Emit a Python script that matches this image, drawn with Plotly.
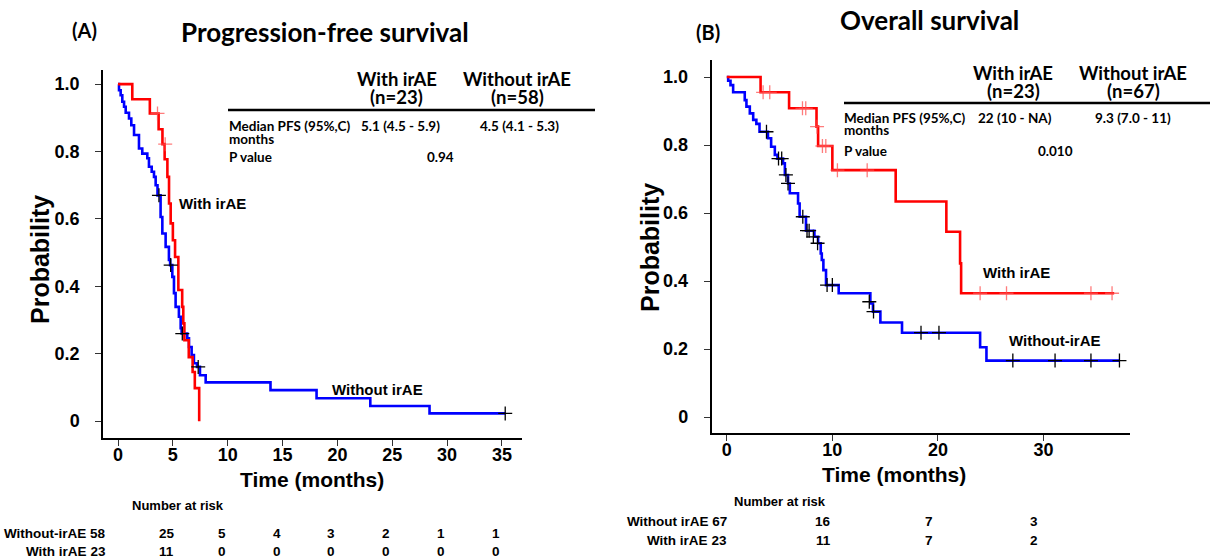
import plotly.graph_objects as go

W, H = 1210, 559

# ---------------- data ----------------
# (A) Progression-free survival
pfs_with_t = [0, 1.3, 2.9, 3.7, 4.05, 4.25, 4.5, 4.65, 4.8, 5.0, 5.2, 5.5, 5.85, 5.95, 6.05, 6.45, 6.8, 7.0, 7.4]
pfs_with_s = [1.0, 0.955, 0.913, 0.866, 0.822, 0.777, 0.725, 0.646, 0.587, 0.537, 0.487, 0.389, 0.339, 0.29, 0.24, 0.19, 0.146, 0.098, 0.0]
pfs_with_cens_t = [3.6, 4.3]
pfs_with_cens_s = [0.913, 0.822]

pfs_wo_t = [0, 0.09, 0.24, 0.39, 0.55, 0.7, 1.0, 1.21, 1.46, 1.91, 2.21, 2.67, 2.82, 3.07, 3.28, 3.43, 3.6, 3.88,
            4.04, 4.34, 4.64, 4.75, 4.95, 5.1, 5.25, 5.55, 5.71, 5.8, 6.31, 6.47, 6.71, 6.92, 7.2, 7.47, 7.99,
            13.9, 18.1, 23.0, 28.4, 35.3]
pfs_wo_s = [1.0, 0.982, 0.967, 0.948, 0.933, 0.915, 0.898, 0.878, 0.849, 0.809, 0.794, 0.78, 0.755, 0.74, 0.725, 0.70, 0.67, 0.606,
            0.557, 0.517, 0.478, 0.463, 0.428, 0.38, 0.339, 0.31, 0.276, 0.26, 0.246, 0.22, 0.196, 0.172, 0.161, 0.136, 0.115,
            0.092, 0.068, 0.045, 0.023, 0.023]
pfs_wo_cens_t = [3.73, 4.8, 5.86, 7.31, 35.3]
pfs_wo_cens_s = [0.67, 0.463, 0.26, 0.161, 0.023]

# (B) Overall survival
os_with_t = [0, 3.2, 5.9, 8.5, 8.65, 10.0, 16.0, 20.8, 22.1, 22.2, 36.7]
os_with_s = [1.0, 0.955, 0.908, 0.854, 0.797, 0.726, 0.634, 0.545, 0.452, 0.364, 0.364]
os_with_cens_t = [3.44, 4.07, 7.17, 7.48, 8.55, 9.06, 9.38, 10.48, 13.3, 24.0, 26.5, 34.5, 36.5]
os_with_cens_s = [0.955, 0.955, 0.908, 0.908, 0.854, 0.797, 0.797, 0.726, 0.726, 0.364, 0.364, 0.364, 0.364]

os_wo_t = [0, 0.13, 0.35, 0.6, 1.7, 1.86, 2.18, 2.5, 2.8, 3.1, 3.9, 4.2, 4.55, 4.8, 5.33, 5.5, 5.8, 5.97, 6.75, 6.9,
           7.5, 8.3, 8.65, 8.9, 9.0, 9.15, 9.4, 10.6, 13.6, 13.85, 14.55, 16.6, 24.0, 24.6, 37.2]
os_wo_s = [1.0, 0.989, 0.976, 0.955, 0.932, 0.913, 0.893, 0.874, 0.862, 0.839, 0.82, 0.795, 0.771, 0.76, 0.746, 0.712,
           0.687, 0.658, 0.628, 0.589, 0.548, 0.53, 0.511, 0.481, 0.462, 0.432, 0.388, 0.364, 0.334, 0.31, 0.278, 0.248,
           0.205, 0.166, 0.166]
os_wo_cens_t = [3.76, 4.9, 5.2, 5.6, 5.8, 7.2, 7.6, 7.8, 8.2, 8.6, 9.5, 10.0, 13.5, 13.9, 18.4, 20.1, 27.1, 31.1, 34.5, 37.2]
os_wo_cens_s = [0.839, 0.76, 0.76, 0.712, 0.687, 0.589, 0.548, 0.548, 0.53, 0.511, 0.388, 0.388, 0.339, 0.31, 0.248,
                0.248, 0.166, 0.166, 0.166, 0.166]

# number at risk
pfs_risk_times = [0, 5, 10, 15, 20, 25, 30, 35]
pfs_risk_without = [58, 25, 5, 4, 3, 2, 1, 1]
pfs_risk_with = [23, 11, 0, 0, 0, 0, 0, 0]
os_risk_times = [0, 10, 20, 30]
os_risk_without = [67, 16, 7, 3]
os_risk_with = [23, 11, 7, 2]

y_ticks = [0, 0.2, 0.4, 0.6, 0.8, 1.0]
y_ticklabels = ["0", "0.2", "0.4", "0.6", "0.8", "1.0"]

# ---------------- figure ----------------
RED = "#FF0000"
BLUE = "#0000FF"
PINK = "rgba(255,80,80,0.75)"
ARIAL = "Liberation Sans"
CAL = "Lato"


def px(x):
    return x / W


def py(y):
    return 1 - y / H


fig = go.Figure()


def curve(t, s, color, xa, ya):
    fig.add_trace(go.Scatter(x=t, y=s, mode="lines", line=dict(color=color, width=2.6, shape="hv"),
                             xaxis=xa, yaxis=ya, hoverinfo="skip"))


def cens(t, s, color, xa, ya):
    fig.add_trace(go.Scatter(x=t, y=s, mode="markers",
                             marker=dict(symbol="cross-thin", size=10, line=dict(color=color, width=1.3)),
                             xaxis=xa, yaxis=ya, hoverinfo="skip"))


curve(pfs_wo_t, pfs_wo_s, BLUE, "x", "y")
curve(pfs_with_t, pfs_with_s, RED, "x", "y")
cens(pfs_wo_cens_t, pfs_wo_cens_s, "black", "x", "y")
cens(pfs_with_cens_t, pfs_with_cens_s, PINK, "x", "y")

curve(os_wo_t, os_wo_s, BLUE, "x2", "y2")
curve(os_with_t, os_with_s, RED, "x2", "y2")
cens(os_wo_cens_t, os_wo_cens_s, "black", "x2", "y2")
cens(os_with_cens_t, os_with_cens_s, PINK, "x2", "y2")

tickfont = dict(family=ARIAL, size=18, color="black", weight="bold")
axis_common = dict(showline=True, linecolor="black", linewidth=1.5, ticks="outside", ticklen=6,
                   tickwidth=1.3, tickcolor="#333", showgrid=False, zeroline=False, tickfont=tickfont)

fig.update_layout(
    width=W, height=H, margin=dict(l=0, r=0, t=0, b=0),
    paper_bgcolor="white", plot_bgcolor="white", showlegend=False,
    xaxis=dict(domain=[px(103), px(522)], range=[-1.37, 36.83], tickvals=pfs_risk_times,
               anchor="y", ticklabelstandoff=-6, **axis_common),
    yaxis=dict(domain=[py(438), py(70)], range=[-0.05, 1.042], tickvals=y_ticks, ticktext=y_ticklabels,
               anchor="x", ticklabelstandoff=12, **axis_common),
    xaxis2=dict(domain=[px(711.5), px(1130)], range=[-1.45, 38.2], tickvals=os_risk_times[:4],
                anchor="y2", ticklabelstandoff=-6, **axis_common),
    yaxis2=dict(domain=[py(433), py(60)], range=[-0.047, 1.05], tickvals=y_ticks, ticktext=y_ticklabels,
                anchor="x2", ticklabelstandoff=12, **axis_common),
)

ann = []


def txt(x, y, s, size, family=ARIAL, xanchor="center", bold=True, xref="paper", yref="paper", **kw):
    if xref == "paper":
        x = px(x)
    if yref == "paper":
        y = py(y)
    ann.append(dict(x=x, y=y, xref=xref, yref=yref, text=s, showarrow=False, xanchor=xanchor, yanchor="middle",
                    font=dict(family=family, size=size, color="black", weight="bold" if bold else "normal"), **kw))


# titles
txt(84, 30, "(A)", 20, CAL)
txt(325, 32, "Progression-free survival", 26, CAL)
txt(708, 32, "(B)", 20, CAL)
txt(929, 20, "Overall survival", 26, CAL)

# axis titles
txt(40, 260, "Probability", 25, textangle=-90)
txt(650, 248, "Probability", 25, textangle=-90)
txt(312, 479, "Time (months)", 21)
txt(894, 474, "Time (months)", 21)

# curve labels
txt(5.4, 0.647, "With irAE", 15, xanchor="left", xref="x", yref="y")
txt(19.3, 0.095, "Without irAE", 15, xanchor="left", xref="x", yref="y")
txt(24.1, 0.426, "With irAE", 15, xanchor="left", xref="x2", yref="y2")
txt(26.5, 0.224, "Without-irAE", 15, xanchor="left", xref="x2", yref="y2")

# table A
txt(397, 79, "With irAE", 18.5, CAL)
txt(397, 97, "(n=23)", 18.5, CAL)
txt(517, 79, "Without irAE", 18.5, CAL)
txt(517, 97, "(n=58)", 18.5, CAL)
txt(227, 126, "Median PFS (95%,C)", 13.5, CAL, xanchor="left")
txt(227, 139, "months", 13.5, CAL, xanchor="left")
txt(359, 126, "5.1 (4.5 - 5.9)", 13.5, CAL, xanchor="left")
txt(478, 126, "4.5 (4.1 - 5.3)", 13.5, CAL, xanchor="left")
txt(227, 157, "P value", 13.5, CAL, xanchor="left")
txt(440, 157, "0.94", 13.5, CAL)

# table B
txt(1013, 73, "With irAE", 18.5, CAL)
txt(1013, 91, "(n=23)", 18.5, CAL)
txt(1133, 73, "Without irAE", 18.5, CAL)
txt(1133, 91, "(n=67)", 18.5, CAL)
txt(842, 118, "Median PFS (95%,C)", 13.5, CAL, xanchor="left")
txt(842, 130, "months", 13.5, CAL, xanchor="left")
txt(976, 118, "22 (10 - NA)", 13.5, CAL, xanchor="left")
txt(1093, 118, "9.3 (7.0 - 11)", 13.5, CAL, xanchor="left")
txt(842, 151, "P value", 13.5, CAL, xanchor="left")
txt(1055, 151, "0.010", 13.5, CAL)


def risk_num(t, y, v, xref, shift):
    ann.append(dict(x=t, y=py(y), xref=xref, yref="paper", text=str(v), showarrow=False, xshift=shift,
                    xanchor="center", yanchor="middle",
                    font=dict(family=ARIAL, size=13.5, color="black", weight="bold")))


# number at risk A
txt(130, 505, "Number at risk", 13, xanchor="left")
txt(108, 533, f"Without-irAE {pfs_risk_without[0]}", 13.5, xanchor="right")
txt(108, 551, f"With irAE {pfs_risk_with[0]}", 13.5, xanchor="right")
for t, a, b in zip(pfs_risk_times[1:], pfs_risk_without[1:], pfs_risk_with[1:]):
    risk_num(t, 533, a, "x", -6)
    risk_num(t, 551, b, "x", -6)

# number at risk B
txt(732, 501, "Number at risk", 13, xanchor="left")
txt(729, 521, f"Without irAE {os_risk_without[0]}", 13.5, xanchor="right")
txt(729, 540, f"With irAE {os_risk_with[0]}", 13.5, xanchor="right")
for t, a, b in zip(os_risk_times[1:], os_risk_without[1:], os_risk_with[1:]):
    risk_num(t, 521, a, "x2", -9)
    risk_num(t, 540, b, "x2", -9)

shapes = [
    dict(type="line", xref="paper", yref="paper", x0=px(228), x1=px(595), y0=py(110), y1=py(110),
         line=dict(color="black", width=2.5)),
    dict(type="line", xref="paper", yref="paper", x0=px(844), x1=px(1210), y0=py(103), y1=py(103),
         line=dict(color="black", width=2.5)),
]

fig.update_layout(annotations=ann, shapes=shapes)
fig.write_html("out.html", config={"displayModeBar": False},
               post_script="document.body.style.margin='0';")
